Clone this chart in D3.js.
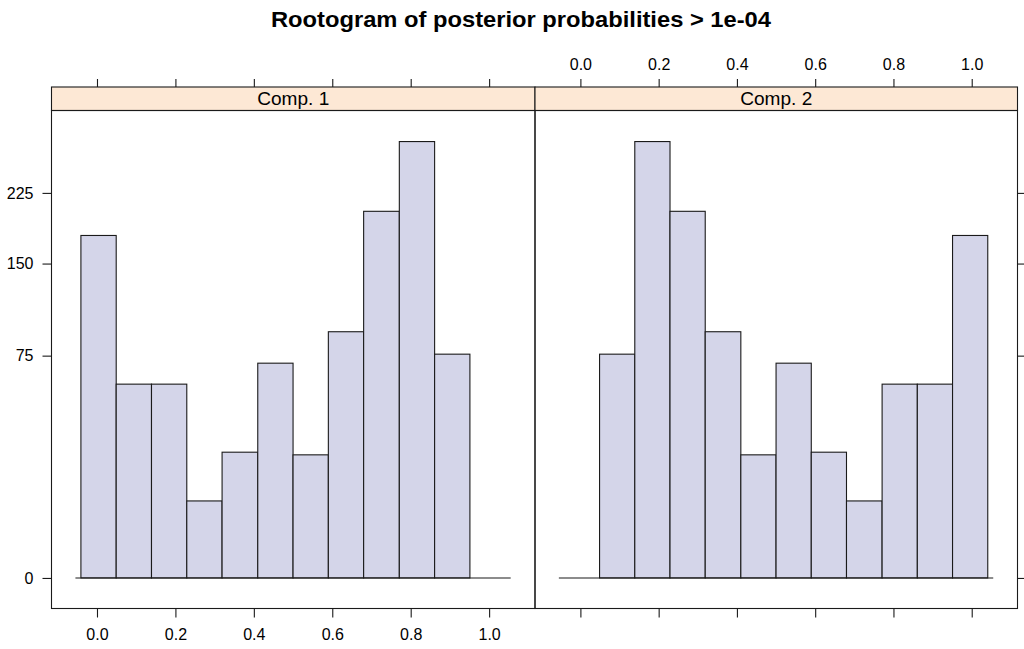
<!DOCTYPE html>
<html>
<head>
<meta charset="utf-8">
<script src="https://cdn.jsdelivr.net/npm/d3@7/dist/d3.min.js"></script>
<style>
  html, body { margin: 0; padding: 0; background: #fff; }
  svg text { font-family: "Liberation Sans", Arial, sans-serif; fill: #000; }
</style>
</head>
<body>
<svg id="chart" width="1024" height="649"></svg>
<script>
// Histogram bin edges shared by both components
const breaks = [-0.041, 0.049, 0.139, 0.229, 0.319, 0.410, 0.500, 0.590, 0.680, 0.771, 0.861, 0.951, 1.041];
// Counts per bin (rootogram: bar height on square-root scale)
const comp1Counts = [178, 57, 57, 9, 24, 70, 23, 92, 204, 289, 76, 0];
const comp2Counts = [0, 76, 289, 204, 92, 23, 70, 24, 9, 57, 57, 178];
const panelNames = ["Comp. 1", "Comp. 2"];
const xTicks = [0.0, 0.2, 0.4, 0.6, 0.8, 1.0];
const yTicks = [0, 75, 150, 225];
const titleText = "Rootogram of posterior probabilities > 1e-04";

const svg = d3.select("#chart");
const lineCol = "#1a1a1a";
const barFill = "#d4d5e9";
const stripFill = "#fde8d5";
const tickFont = 16;

// layout
const panelTop = 110.5, panelBottom = 608.5, stripTop = 87;
const panelEdges = [[51.5, 535], [535, 1017.5]];
const xDomain = [-0.116, 1.117];
const sq = v => v < 0 ? -v * v : v * v;
const y = d3.scaleSqrt().domain([sq(-1.19), sq(18.21)]).range([panelBottom, panelTop]);

svg.append("text")
  .attr("x", 521).attr("y", 27)
  .attr("text-anchor", "middle")
  .attr("font-size", 22).attr("font-weight", "bold")
  .attr("textLength", 500).attr("lengthAdjust", "spacingAndGlyphs")
  .text(titleText);

const data = [comp1Counts, comp2Counts];

panelNames.forEach((name, i) => {
  const [x0, x1] = panelEdges[i];
  const x = d3.scaleLinear().domain(xDomain).range([x0, x1]);
  const g = svg.append("g");

  // bars
  const bins = data[i].map((c, j) => ({ c, a: breaks[j], b: breaks[j + 1] }));
  g.selectAll("rect.bar").data(bins.filter(d => d.c > 0)).join("rect")
    .attr("class", "bar")
    .attr("x", d => x(d.a))
    .attr("width", d => x(d.b) - x(d.a))
    .attr("y", d => y(d.c))
    .attr("height", d => y(0) - y(d.c))
    .attr("fill", barFill)
    .attr("stroke", lineCol).attr("stroke-width", 1.1);

  // zero line
  g.append("line")
    .attr("x1", x(-0.055)).attr("x2", x(1.055))
    .attr("y1", y(0)).attr("y2", y(0))
    .attr("stroke", lineCol).attr("stroke-width", 1.1);

  // strip
  g.append("rect")
    .attr("x", x0).attr("y", stripTop)
    .attr("width", x1 - x0).attr("height", panelTop - stripTop)
    .attr("fill", stripFill).attr("stroke", lineCol).attr("stroke-width", 1.1);
  g.append("text")
    .attr("x", (x0 + x1) / 2).attr("y", stripTop + 18)
    .attr("text-anchor", "middle").attr("font-size", 18)
    .attr("textLength", 72).attr("lengthAdjust", "spacingAndGlyphs")
    .text(name);

  // panel border
  g.append("rect")
    .attr("x", x0).attr("y", panelTop)
    .attr("width", x1 - x0).attr("height", panelBottom - panelTop)
    .attr("fill", "none").attr("stroke", lineCol).attr("stroke-width", 1.1);

  // bottom axis (labels on the first panel only)
  const bAxis = d3.axisBottom(x).tickValues(xTicks).tickSize(9).tickPadding(11)
    .tickFormat(i === 0 ? d3.format(".1f") : () => "");
  const bg = svg.append("g").attr("transform", `translate(0,${panelBottom})`).call(bAxis);
  // top axis (labels on the second panel only)
  const tAxis = d3.axisTop(x).tickValues(xTicks).tickSize(8).tickPadding(9)
    .tickFormat(i === 1 ? d3.format(".1f") : () => "");
  const tg = svg.append("g").attr("transform", `translate(0,${stripTop})`).call(tAxis);
  [bg, tg].forEach(a => {
    a.select(".domain").remove();
    a.selectAll(".tick line").attr("stroke", lineCol).attr("stroke-width", 1.1);
    a.selectAll(".tick text").attr("font-size", tickFont).attr("fill", "#000")
      .attr("font-family", "Liberation Sans, Arial, sans-serif");
  });
});

// left axis with labels, right axis ticks only
const lAxis = d3.axisLeft(y).tickValues(yTicks).tickSize(9).tickPadding(9).tickFormat(d3.format("d"));
const lg = svg.append("g").attr("transform", `translate(${panelEdges[0][0]},0)`).call(lAxis);
const rAxis = d3.axisRight(y).tickValues(yTicks).tickSize(9).tickFormat(() => "");
const rg = svg.append("g").attr("transform", `translate(${panelEdges[1][1]},0)`).call(rAxis);
[lg, rg].forEach(a => {
  a.select(".domain").remove();
  a.selectAll(".tick line").attr("stroke", lineCol).attr("stroke-width", 1.1);
  a.selectAll(".tick text").attr("font-size", tickFont).attr("fill", "#000")
    .attr("font-family", "Liberation Sans, Arial, sans-serif");
});
</script>
</body>
</html>
